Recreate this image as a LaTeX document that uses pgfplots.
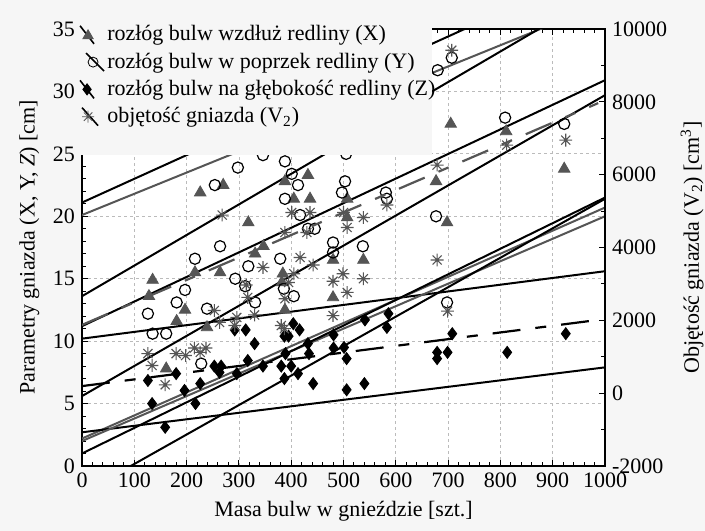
\documentclass[border=0pt]{standalone}
\usepackage{fontspec}
\setmainfont{Liberation Serif}
\usepackage{pgfplots}
\pgfplotsset{compat=1.18}
\usetikzlibrary{plotmarks}
\definecolor{grayline}{HTML}{555555}
\definecolor{gridgray}{HTML}{BBBBBB}
\definecolor{bg}{HTML}{F6F6F6}
\pgfdeclareplotmark{ast8}{%
  \pgfpathmoveto{\pgfqpoint{0pt}{\pgfplotmarksize}}\pgfpathlineto{\pgfqpoint{0pt}{-\pgfplotmarksize}}%
  \pgfpathmoveto{\pgfqpoint{\pgfplotmarksize}{0pt}}\pgfpathlineto{\pgfqpoint{-\pgfplotmarksize}{0pt}}%
  \pgfpathmoveto{\pgfqpoint{0.707\pgfplotmarksize}{0.707\pgfplotmarksize}}\pgfpathlineto{\pgfqpoint{-0.707\pgfplotmarksize}{-0.707\pgfplotmarksize}}%
  \pgfpathmoveto{\pgfqpoint{0.707\pgfplotmarksize}{-0.707\pgfplotmarksize}}\pgfpathlineto{\pgfqpoint{-0.707\pgfplotmarksize}{0.707\pgfplotmarksize}}%
  \pgfusepathqstroke}
\newcommand{\fs}{\fontsize{11bp}{13bp}\selectfont}
\tikzset{regdash/.style={dash pattern=on 14bp off 7.5bp on 5.5bp off 7.5bp}}
\begin{document}
\begin{tikzpicture}[font=\fs]
\fill[bg] (-41bp,-32.5bp) rectangle (311.5bp,233bp);
\begin{axis}[
  at={(0,0)}, anchor=south west,
  scale only axis, width=261.5bp, height=218.5bp,
  xmin=0, xmax=1000, ymin=0, ymax=35,
  xtick={0,100,...,1000}, ytick={0,5,...,35},
  minor x tick num=4, minor y tick num=4,
  ytick pos=left, xtick pos=both,
  tick align=inside,
  major tick length=3bp, minor tick length=2bp,
  grid=major, grid style={gridgray, dash pattern=on 1.5bp off 1.5bp, line width=0.4bp},
  axis background/.style={fill=white},
  axis line style={line width=0.7bp},
  every tick/.style={black, line width=0.5bp},
  /pgf/number format/assume math mode=true,
  /pgf/number format/1000 sep={},
  tick label style={font=\fs},
  label style={font=\fs},
  xlabel={Masa bulw w gnieździe [szt.]},
  ylabel={Parametry gniazda (X, Y, \textit{Z}) [cm]},
]
% regression and band lines
\addplot[black, line width=1bp] coordinates {(0,21.1) (1000,40.1)};
\addplot[grayline, line width=1bp] coordinates {(0,20.1) (1000,37.1)};
\addplot[black, line width=1bp] coordinates {(0,13.6) (1000,38.1)};
\addplot[black, line width=1bp] coordinates {(0,11.2) (1000,30.9)};
\addplot[black, line width=1bp] coordinates {(0,10.2) (1000,15.6)};
\addplot[black, line width=1.1bp, regdash] coordinates {(0,6.4) (987,11.7)};
\addplot[black, line width=1bp] coordinates {(0,5.6) (1000,29.7)};
\addplot[grayline, line width=1bp] coordinates {(0,2.2) (1000,20.7)};
\addplot[black, line width=1bp] coordinates {(0,2.7) (1000,7.9)};
\addplot[grayline, line width=1bp] coordinates {(0,2.0) (1000,20.0)};
\addplot[black, line width=1bp] coordinates {(0,1.0) (1000,21.5)};
\addplot[black, line width=1bp] coordinates {(0,-2.2) (1000,21.4)};
% X
\addplot[only marks, mark=triangle*, mark size=3.3bp, color=grayline] table {
128 13.6
135 14.9
161 7.8
181 11.6
197 12.5
216 15.5
226 21.9
239 11.1
264 15.5
270 22.5
318 19.5
331 17.0
347 17.6
382 14.7
384 15.4
388 12.5
388 22.8
405 21.4
432 23.3
436 21.4
480 16.5
480 13.5
507 21.4
507 19.9
538 16.5
677 22.8
698 19.5
705 27.4
811 26.8
922 23.8
};
% Y
\addplot[only marks, mark=o, mark size=2.8bp, black, mark options={line width=0.6bp}] table {
126 12.2
135 10.6
161 10.6
181 13.1
197 14.1
216 16.6
228 8.2
239 12.6
254 22.5
264 17.6
293 15.0
298 23.9
312 14.4
318 16.0
331 13.1
346 24.9
379 16.6
386 14.2
388 24.4
388 21.4
401 23.4
405 13.6
413 22.5
417 20.1
432 19.0
445 19.0
480 17.9
480 17.1
497 21.9
503 22.8
505 25.0
537 17.6
581 21.9
583 21.4
677 20.0
680 31.7
698 13.1
707 32.7
809 27.9
922 27.4
};
% Z
\addplot[only marks, mark=diamond*, mark size=3bp, black] table {
126 6.85
134 5.0
159 3.1
180 7.4
196 6.05
217 5.0
226 6.6
253 8.0
263 7.5
266 8.0
292 10.9
296 7.4
313 10.9
317 8.45
330 9.8
346 8.0
381 8.0
387 7.0
387 10.4
389 9.0
395 10.4
400 8.0
404 11.4
413 7.4
416 10.9
432 9.8
434 9.0
442 6.6
481 10.5
481 9.45
501 9.5
506 8.6
506 6.1
540 6.6
541 11.7
583 11.1
586 12.2
679 9.1
679 8.6
699 9.1
708 10.6
813 9.1
925 10.6
};
\end{axis}
\begin{axis}[
  at={(0,0)}, anchor=south west,
  scale only axis, width=261.5bp, height=218.5bp,
  xmin=0, xmax=1000, ymin=-2000, ymax=10000,
  axis x line=none, axis y line*=right,
  ytick={-2000,0,...,10000}, minor y tick num=1,
  scaled y ticks=false,
  tick align=inside,
  major tick length=3bp, minor tick length=2bp,
  axis line style={line width=0.7bp},
  every tick/.style={black, line width=0.5bp},
  /pgf/number format/assume math mode=true,
  /pgf/number format/1000 sep={},
  tick label style={font=\fs},
  label style={font=\fs},
  ylabel={Objętość gniazda (V\textsubscript{2}) [cm\textsuperscript{3}]},
  clip mode=individual,
  legend style={at={(rel axis cs:-0.006,1.014)}, anchor=north west, draw=none, fill=none,
    font=\fs, row sep=2.1bp, inner sep=0pt, nodes={inner sep=1.2bp}},
  legend cell align=left,
]
\addplot[grayline, line width=1.1bp, regdash, forget plot] coordinates {(0,1874) (987,7965)};
\addplot[only marks, mark=ast8, mark size=3.2bp, grayline, mark options={line width=0.55bp}, forget plot] table {
126 1086
134 760
159 229
180 1086
198 1034
215 1240
226 1120
237 1240
253 2269
263 1943
268 4891
292 1857
296 2080
314 2971
317 2629
330 2149
346 3451
381 1857
387 1771
388 2594
388 4411
395 3040
401 4960
405 3280
417 3726
430 4411
436 4960
442 3520
480 3074
480 2131
499 3280
500 4960
507 4549
507 2766
538 4823
538 3143
583 5166
679 6263
679 3657
699 2251
707 9417
812 6811
925 6949
};
\fill[bg] (rel axis cs:-0.0076,0.7117) rectangle (rel axis cs:0.6692,1.07);
\addlegendimage{legend image code/.code={\draw[black,line width=0.8bp] (0bp,4.5bp) -- (7bp,-4.5bp); \draw[grayline, mark=triangle*, mark size=3bp] plot coordinates {(4bp,-0.5bp)};}}
\addlegendentry{rozłóg bulw wzdłuż redliny (X)}
\addlegendimage{legend image code/.code={\draw[black,line width=0.8bp] (3bp,4.5bp) -- (12bp,-4.5bp); \draw[black, mark=o, mark size=2.5bp, mark options={fill=bg}] plot coordinates {(6.5bp,0bp)};}}
\addlegendentry{rozłóg bulw w poprzek redliny (Y)}
\addlegendimage{legend image code/.code={\draw[black,line width=0.8bp] (0bp,4.5bp) -- (7bp,-4.5bp); \draw[black, mark=diamond*, mark size=2.8bp] plot coordinates {(3.5bp,0bp)};}}
\addlegendentry{rozłóg bulw na głębokość redliny (Z)}
\addlegendimage{legend image code/.code={\draw[black,line width=0.8bp] (1bp,4.5bp) -- (9bp,-4.5bp); \draw[grayline, mark=ast8, mark size=3bp, mark options={fill=bg}] plot coordinates {(4bp,0bp)};}}
\addlegendentry{objętość gniazda (V\textsubscript{2})}
\end{axis}
\pgfresetboundingbox
\path (-41bp,-32.5bp) rectangle (311.5bp,233bp);
\end{tikzpicture}
\end{document}
